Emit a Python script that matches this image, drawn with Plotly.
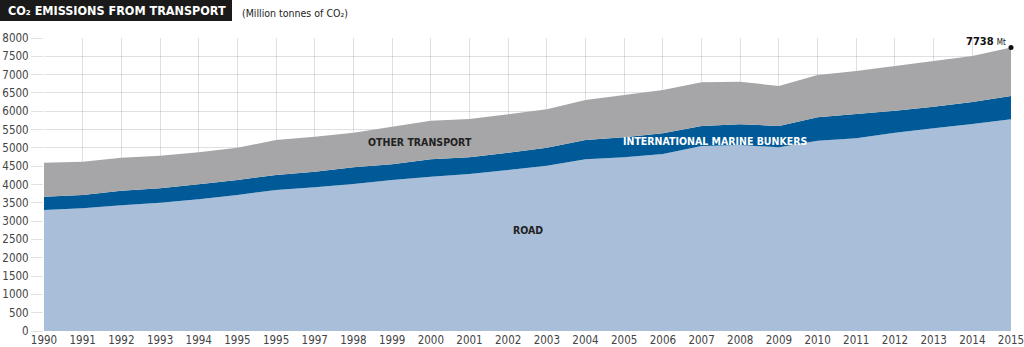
import plotly.graph_objects as go

years = list(range(1990, 2016))
# Tick labels as printed on the axis (the 1996 slot carries "1995")
year_labels = ["1990", "1991", "1992", "1993", "1994", "1995", "1995", "1997", "1998",
               "1999", "2000", "2001", "2002", "2003", "2004", "2005", "2006", "2007",
               "2008", "2009", "2010", "2011", "2012", "2013", "2014", "2015"]

road = [3304, 3350, 3431, 3504, 3595, 3713, 3850, 3923, 4014, 4123, 4214, 4287, 4396,
        4514, 4687, 4741, 4833, 5051, 5078, 5015, 5196, 5261, 5415, 5534, 5652, 5780]
marine = [363, 363, 400, 391, 409, 410, 409, 427, 455, 428, 473, 454, 473,
          491, 528, 547, 564, 546, 565, 582, 639, 664, 600, 591, 601, 636]
other = [929, 910, 901, 892, 874, 882, 956, 956, 946, 1028, 1055, 1047, 1047,
         1048, 1092, 1156, 1183, 1193, 1164, 1092, 1155, 1174, 1220, 1247, 1256, 1322]

total_2015 = road[-1] + marine[-1] + other[-1]

FONT = "DejaVu Sans Condensed"
W, H = 1024, 347
ML, MR, MT, MB = 44, 13, 38, 16


def font(size, color, weight="normal"):
    return dict(family=FONT, size=size, color=color, weight=weight)


fig = go.Figure()
fig.add_trace(go.Scatter(x=years, y=road, stackgroup="s", mode="none",
                         fillcolor="#a8bed9", name="Road"))
fig.add_trace(go.Scatter(x=years, y=marine, stackgroup="s", mode="none",
                         fillcolor="#005a98", name="International marine bunkers"))
fig.add_trace(go.Scatter(x=years, y=other, stackgroup="s", mode="none",
                         fillcolor="#a6a6a8", name="Other transport"))
fig.add_trace(go.Scatter(x=[years[-1]], y=[total_2015], mode="markers",
                         marker=dict(color="#111111", size=5), cliponaxis=False,
                         showlegend=False))

grid = "rgba(90,100,120,0.2)"
fig.update_xaxes(range=[1990, 2015], tickvals=years, ticktext=year_labels,
                 showgrid=True, gridcolor=grid, gridwidth=1, zeroline=False,
                 showline=False, ticks="", layer="above traces",
                 ticklabeloverflow="allow", tickfont=font(11.5, "#444444"))
fig.update_yaxes(range=[0, 8000], dtick=500, showgrid=True, gridcolor=grid,
                 gridwidth=1, zeroline=False, showline=False,
                 ticks="outside", ticklen=12, tickcolor="#e2e2e2",
                 layer="above traces", tickfont=font(11.5, "#444444"))


def px_x(px):
    return (px - ML) / (W - ML - MR)


def px_y(py):
    return (H - MB - py) / (H - MT - MB)


# Title bar
fig.add_shape(type="rect", xref="paper", yref="paper",
              x0=px_x(0), x1=px_x(232), y0=px_y(21), y1=px_y(0),
              fillcolor="#1a1a1a", line_width=0, layer="above")
fig.add_annotation(xref="paper", yref="paper", x=px_x(6), y=px_y(10.5),
                   xanchor="left", yanchor="middle", showarrow=False,
                   text="CO₂ EMISSIONS FROM TRANSPORT",
                   font=font(12.5, "white", "bold"))
fig.add_annotation(xref="paper", yref="paper", x=px_x(240), y=px_y(13),
                   xanchor="left", yanchor="middle", showarrow=False,
                   text="(Million tonnes of CO₂)",
                   font=font(10.5, "#222222"))

# Series labels
fig.add_annotation(x=1999.73, y=5160, showarrow=False, text="OTHER TRANSPORT",
                   font=font(10.5, "#222222", "bold"))
fig.add_annotation(x=2007.36, y=5188, showarrow=False,
                   text="INTERNATIONAL MARINE BUNKERS",
                   font=font(10.5, "white", "bold"))
fig.add_annotation(x=2002.52, y=2758, showarrow=False, text="ROAD",
                   font=font(10.5, "#222222", "bold"))

# End value
fig.add_annotation(x=years[-1], y=total_2015, xanchor="right", yanchor="bottom",
                   xshift=-3, yshift=-2, showarrow=False,
                   text=f"<b>{total_2015}</b> <span style='font-size:8px'>Mt</span>",
                   font=font(11, "#111111"))

fig.update_layout(width=W, height=H, margin=dict(l=ML, r=MR, t=MT, b=MB, autoexpand=False),
                  paper_bgcolor="white", plot_bgcolor="white", showlegend=False)

fig.write_html("out.html")
